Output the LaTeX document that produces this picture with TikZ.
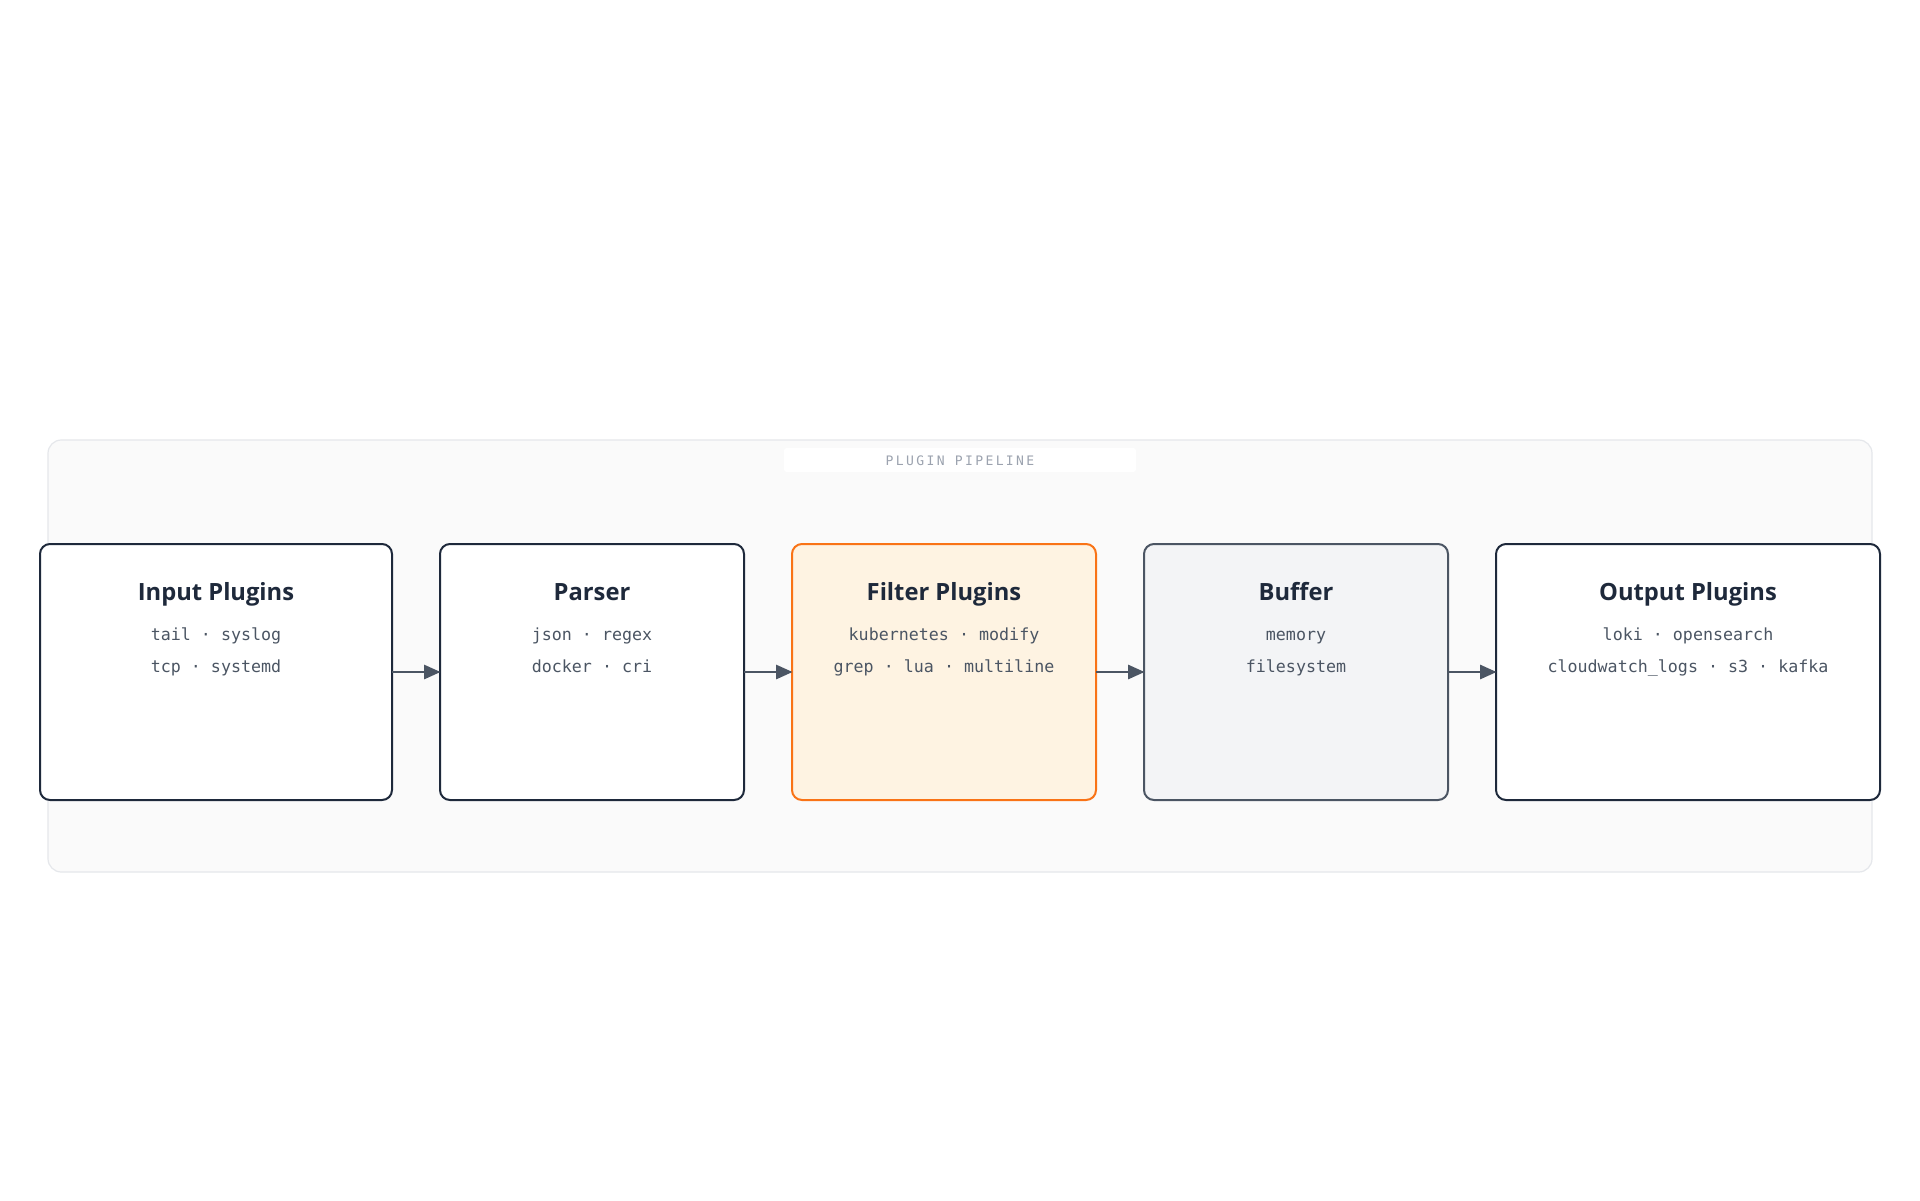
\documentclass[tikz,border=0pt]{standalone}
\usepackage{fontspec}
\setmainfont{Noto Sans}
\setmonofont{DejaVu Sans Mono}
\newfontfamily\titlefont{Open Sans}
\usetikzlibrary{arrows.meta}
\definecolor{navy}{HTML}{1E293B}
\definecolor{slate}{HTML}{4B5563}
\definecolor{lightgray}{HTML}{9CA3AF}
\definecolor{contfill}{HTML}{FAFAFA}
\definecolor{contline}{HTML}{E5E7EB}
\definecolor{orangefill}{HTML}{FEF3E2}
\definecolor{orangeline}{HTML}{F97316}
\definecolor{grayfill}{HTML}{F3F4F6}
\tikzset{
  stagebox/.style={draw=navy, line width=1.5pt, fill=white, rounded corners=7.5pt},
  filterbox/.style={stagebox, draw=orangeline, fill=orangefill},
  bufferbox/.style={stagebox, draw=slate, fill=grayfill},
  titletext/.style={anchor=base, inner sep=0pt, text=navy, font=\titlefont\fontsize{17.8pt}{20pt}\selectfont\bfseries},
  monotext/.style={anchor=base, inner sep=0pt, text=slate, font=\fontsize{12.5pt}{15pt}\selectfont\ttfamily},
  flow/.style={draw=slate, line width=2.2pt, -{Triangle[length=12.5pt, width=10.5pt]}, shorten >=-0.5pt},
}
\begin{document}
\begin{tikzpicture}[x=0.75pt, y=-0.75pt]
\useasboundingbox (0,0) rectangle (1920,1200);
\fill[white] (0,0) rectangle (1920,1200);
% container
\draw[fill=contfill, draw=contline, line width=0.9pt, rounded corners=10pt] (48,440) rectangle (1872,872);
\fill[white, rounded corners=2pt] (784,448) rectangle (1136,472);
\node[anchor=base, inner sep=0pt, text=lightgray, font=\fontsize{9.8pt}{12pt}\selectfont\ttfamily\addfontfeatures{LetterSpace=18}] (lbl) at (960,465.5) {PLUGIN PIPELINE};
% boxes
\draw[stagebox] (40,544) rectangle (392,800);
\draw[stagebox] (440,544) rectangle (744,800);
\draw[filterbox] (792,544) rectangle (1096,800);
\draw[bufferbox] (1144,544) rectangle (1448,800);
\draw[stagebox] (1496,544) rectangle (1880,800);
\coordinate (inR) at (392,672);
\coordinate (paL) at (440,672);
\coordinate (paR) at (744,672);
\coordinate (fiL) at (792,672);
\coordinate (fiR) at (1096,672);
\coordinate (buL) at (1144,672);
\coordinate (buR) at (1448,672);
\coordinate (ouL) at (1496,672);
% texts
\node[titletext] (t1) at (216,600) {Input Plugins};
\node[monotext] (a1) at (216,640) {tail · syslog};
\node[monotext] (b1) at (216,672) {tcp · systemd};
\node[titletext] (t2) at (592,600) {Parser};
\node[monotext] (a2) at (592,640) {json · regex};
\node[monotext] (b2) at (592,672) {docker · cri};
\node[titletext] (t3) at (944,600) {Filter Plugins};
\node[monotext] (a3) at (944,640) {kubernetes · modify};
\node[monotext] (b3) at (944,672) {grep · lua · multiline};
\node[titletext] (t4) at (1296,600) {Buffer};
\node[monotext] (a4) at (1296,640) {memory};
\node[monotext] (b4) at (1296,672) {filesystem};
\node[titletext] (t5) at (1688,600) {Output Plugins};
\node[monotext] (a5) at (1688,640) {loki · opensearch};
\node[monotext] (b5) at (1688,672) {cloudwatch\_logs · s3 · kafka};
% arrows
\draw[flow] (inR) -- (paL);
\draw[flow] (paR) -- (fiL);
\draw[flow] (fiR) -- (buL);
\draw[flow] (buR) -- (ouL);
\end{tikzpicture}
\end{document}
